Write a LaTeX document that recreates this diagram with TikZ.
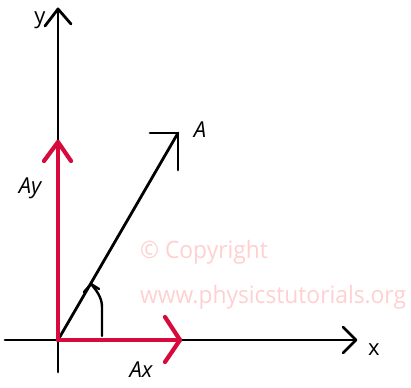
\documentclass[tikz,border=0pt]{standalone}
\usepackage{fontspec}
\setmainfont{Open Sans}
\definecolor{vred}{RGB}{214,10,60}
\definecolor{wm}{RGB}{255,208,208}
\begin{document}
\begin{tikzpicture}[x=1pt,y=-1pt,
  axis/.style={line width=2.8pt,black,line cap=round,line join=round},
  comp/.style={line width=4.2pt,vred,line cap=round,line join=round},
  lab/.style={font=\fontsize{22}{22}\selectfont\itshape,inner sep=0pt},
  ulab/.style={font=\fontsize{22}{22}\selectfont,inner sep=0pt},
  wmark/.style={font=\fontsize{24}{24}\selectfont,text=wm,inner sep=0pt,anchor=west,xscale=0.95}]
\useasboundingbox (0,0) rectangle (411,387);
\coordinate (O) at (58,340);
\coordinate (Ytip) at (58,9);
\coordinate (Ybot) at (58,372);
\coordinate (Xtip) at (356,340);
\coordinate (Xleft) at (5,340);
\coordinate (Atip) at (178,133);
\coordinate (AYtip) at (58,142);
\coordinate (AXtip) at (180,340);
% axes
\draw[axis] (Ybot) -- (Ytip);
\draw[axis] (45,26) -- (Ytip) -- (71,24);
\draw[axis] (Xleft) -- (Xtip);
\draw[axis] (343,327) -- (Xtip) -- (343,353);
% vector A
\draw[axis] (O) -- (Atip);
\draw[axis] (150,133) -- (Atip) -- (178,170);
% components
\draw[comp] (O) -- (AYtip);
\draw[comp] (44,161) -- (AYtip) -- (71,161);
\draw[comp] (O) -- (AXtip);
\draw[comp] (165,317) -- (AXtip) -- (165,362);
% angle marker
\coordinate (Mb) at (102,336);
\coordinate (Mt) at (91,284);
\draw[axis,line width=2.4pt] (Mb) -- (102,307) .. controls (102,297) and (96,290) .. (Mt);
\draw[axis,line width=2.4pt] (84,292) -- (Mt) -- (99,289);
% labels
\node[ulab] (ly) at (40,20) {y};
\node[lab] (lA) at (200,130) {A};
\node[lab] (lAy) at (30,188) {Ay};
\node[lab] (lAx) at (141,370) {Ax};
\node[ulab] (lx) at (374,350) {x};
% watermark
\node[wmark] (w1) at (140,252) {\textcopyright\ Copyright};
\node[wmark] (w2) at (140,297) {www.physicstutorials.org};
\end{tikzpicture}
\end{document}
